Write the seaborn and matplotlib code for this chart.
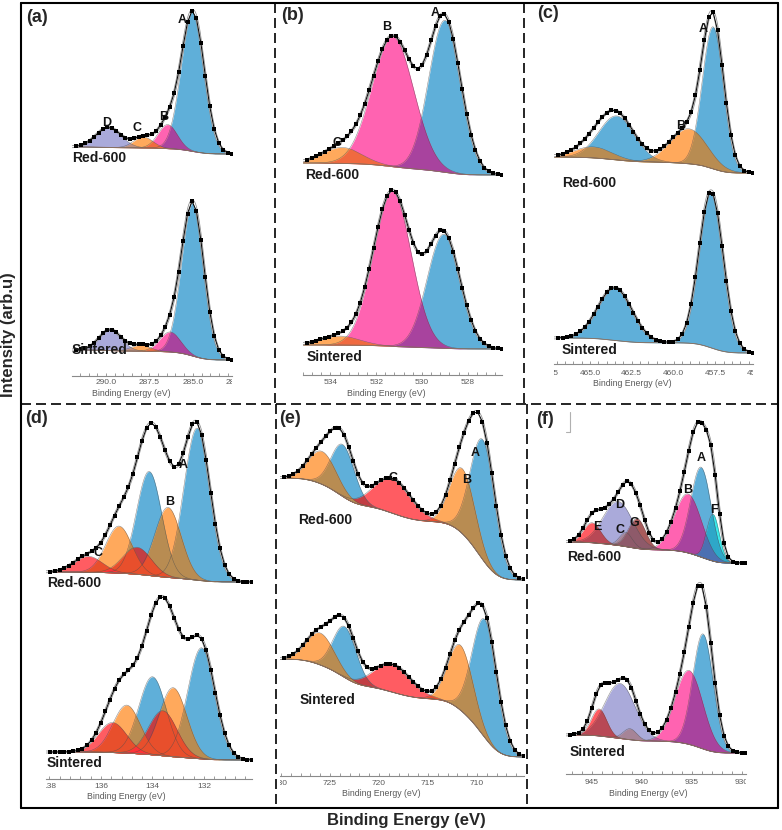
import numpy as np
import matplotlib
matplotlib.use("Agg")
import matplotlib.pyplot as plt
import matplotlib.patheffects as pe
import matplotlib.transforms as mtransforms
from matplotlib.colors import to_rgb
from matplotlib.lines import Line2D
from matplotlib.ticker import AutoMinorLocator
import seaborn as sns

FIG_W, FIG_H = 782, 830

# ---- fitted components ----
# centre (eV), height (arb.u), FWHM (eV); step = Shirley background rise (arb.u)

# (a) C 1s
a_red_center = [285.0, 286.45, 287.85, 289.85]
a_red_height = [140, 24, 11, 20]
a_red_fwhm = [1.55, 1.3, 1.3, 1.7]
a_red_step = 7
a_sin_center = [285.0, 286.3, 288.0, 289.75]
a_sin_height = [153, 20, 6, 21]
a_sin_fwhm = [1.5, 1.4, 1.3, 1.5]
a_sin_step = 10
a_ticks = [290.0, 287.5, 285.0, 282.5]

# (b) O 1s
b_red_center = [529.0, 531.27, 533.5]
b_red_height = [152, 130, 16]
b_red_fwhm = [1.65, 2.15, 2.0]
b_red_step = 12
b_sin_center = [529.05, 531.3, 533.6]
b_sin_height = [114, 155, 9]
b_sin_fwhm = [1.7, 1.95, 2.0]
b_sin_step = 4
b_ticks = [534, 532, 530, 528]

# (c) Ti 2p
c_red_center = [457.64, 463.4, 459.1, 464.8]
c_red_height = [142, 44, 35, 11]
c_red_fwhm = [1.5, 2.5, 2.6, 2.6]
c_red_step = 16
c_sin_center = [457.75, 463.5]
c_sin_height = [157, 53]
c_sin_fwhm = [1.7, 2.4]
c_sin_step = 15
c_ticks = [467.5, 465.0, 462.5, 460.0, 457.5, 455.0]

# (d) P 2p
d_red_center = [132.27, 134.13, 133.4, 135.3, 134.6, 136.5]
d_red_height = [152, 104, 70, 47, 27, 16]
d_red_fwhm = [1.2, 1.15, 1.2, 1.2, 1.3, 1.3]
d_red_step = 10
d_sin_center = [132.1, 134.0, 133.2, 135.0, 133.6, 135.55]
d_sin_height = [111, 78, 69, 48, 45, 30]
d_sin_fwhm = [1.25, 1.25, 1.25, 1.25, 1.3, 1.3]
d_sin_step = 8
d_ticks = [138, 136, 134, 132]

# (e) Fe 2p
e_red_center = [709.4, 711.5, 718.6, 723.7, 725.8]
e_red_height = [120, 65, 35, 52, 33]
e_red_fwhm = [3.0, 3.0, 4.5, 2.8, 3.4]
e_red_step = 102
e_sin_center = [709.2, 711.7, 718.6, 723.5, 726.0]
e_sin_height = [118, 65, 28, 51, 32]
e_sin_fwhm = [3.0, 3.0, 4.5, 2.8, 3.4]
e_sin_step = 98
e_ticks = [730, 725, 720, 715, 710]

# (f) Cu 2p
f_red_center = [934.1, 935.4, 941.6, 942.4, 945.0, 932.9, 940.5]
f_red_height = [90, 59, 14, 44, 20, 47, 30]
f_red_fwhm = [2.4, 3.2, 1.5, 3.5, 2.0, 1.5, 2.0]
f_red_step = 21
f_sin_center = [933.9, 935.3, 941.2, 942.2, 944.3]
f_sin_height = [115, 74, 11, 55, 27]
f_sin_fwhm = [2.4, 3.3, 1.6, 3.6, 1.8]
f_sin_step = 18
f_ticks = [945, 940, 935, 930]

# ---- colours ----
PAL = {'blue': '#5FAFD9', 'pink': '#FF63B1', 'orange': '#FFA95C', 'lav': '#AAAADA',
       'red': '#FF5C62', 'cyan': '#38EAEA', 'brown': '#A95B5B', 'rose': '#C9A1A6'}
MIX = {('blue', 'pink'): '#A8439E', ('blue', 'orange'): '#B88C52',
       ('orange', 'pink'): '#F06A40', ('orange', 'red'): '#E84F2C',
       ('blue', 'red'): '#C23E44', ('lav', 'red'): '#B84855',
       ('brown', 'lav'): '#8E5A6A', ('lav', 'rose'): '#A68497',
       ('brown', 'rose'): '#A05858', ('blue', 'cyan'): '#2EA7C8',
       ('lav', 'pink'): '#C05AA0', ('brown', 'pink'): '#B04870',
       ('lav', 'orange'): '#C0907E', ('pink', 'rose'): '#D06A90'}


def fx(px):
    return px / FIG_W


def fy(py):
    return 1 - py / FIG_H


def blend(c1, c2):
    key = tuple(sorted((c1, c2)))
    if key in MIX:
        return MIX[key]
    a = np.array(to_rgb(PAL[c1]))
    b = np.array(to_rgb(PAL[c2]))
    return tuple((a * b) ** 0.8)


def draw_spectrum(ax, E, center, height, fwhm, step, base, colors, k):
    comps = [h * np.exp(-4 * np.log(2) * ((E - c) / w) ** 2)
             for c, h, w in zip(center, height, fwhm)]
    total = np.sum(comps, axis=0)
    cum = np.cumsum(total)
    bg = base + step * cum / cum[-1]
    for comp, cn in zip(comps, colors):
        ax.fill_between(E, bg, bg + comp, color=PAL[cn], lw=0, zorder=1)
    n = len(comps)
    for i in range(n):
        for j in range(i + 1, n):
            ov = np.minimum(comps[i], comps[j])
            if ov.max() < 0.8:
                continue
            ax.fill_between(E, bg, bg + ov, color=blend(colors[i], colors[j]), lw=0, zorder=1.5)
    for comp in comps:
        ax.plot(E, bg + comp, color='0.3', lw=0.35, alpha=0.7, zorder=2)
    ax.plot(E, bg, color='#8f7260', lw=0.6, zorder=2)
    env = bg + total
    sns.lineplot(x=E, y=env, ax=ax, color='white', lw=0.9, zorder=3,
                 path_effects=[pe.Stroke(linewidth=2.0, foreground='0.55'), pe.Normal()])
    sns.lineplot(x=E[::k], y=env[::k], ax=ax, color='black', lw=0.7, marker='s',
                 markersize=2.4, markeredgewidth=0, zorder=4)


panels = [
    dict(tag='(a)', tag_xy=(37, 18), rect=(72, 232, 376, 3), xlim=(291.95, 282.75),
         ticks=a_ticks, fmt='{:.1f}', tick_y=383, xlab=(131, 393),
         colors=['blue', 'pink', 'orange', 'lav'],
         spectra=[(a_red_center, a_red_height, a_red_fwhm, a_red_step, 222),
                  (a_sin_center, a_sin_height, a_sin_fwhm, a_sin_step, 16)],
         letters=[('A', 285.6, 356), ('B', 286.7, 259), ('C', 288.2, 248), ('D', 289.95, 253)],
         red=(72, 158), sin=(72, 350)),
    dict(tag='(b)', tag_xy=(293, 16), rect=(303, 502, 375, 3), xlim=(535.2, 526.5),
         ticks=b_ticks, fmt='{:.0f}', tick_y=383, xlab=(386, 393),
         colors=['blue', 'pink', 'orange'],
         spectra=[(b_red_center, b_red_height, b_red_fwhm, b_red_step, 200),
                  (b_sin_center, b_sin_height, b_sin_fwhm, b_sin_step, 26)],
         letters=[('A', 529.44, 362), ('B', 531.53, 348), ('C', 533.7, 232)],
         red=(305, 175), sin=(307, 357)),
    dict(tag='(c)', tag_xy=(548, 14), rect=(554, 753, 364, 3), xlim=(467.15, 455.25),
         ticks=c_ticks, fmt='{:.1f}', tick_y=373, xlab=(632, 383),
         colors=['blue', 'blue', 'orange', 'orange'],
         spectra=[(c_red_center, c_red_height, c_red_fwhm, c_red_step, 191),
                  (c_sin_center, c_sin_height, c_sin_fwhm, c_sin_step, 11)],
         letters=[('A', 458.23, 335), ('B', 459.55, 238)],
         red=(562, 183), sin=(562, 350)),
    dict(tag='(d)', tag_xy=(37, 418), rect=(46, 252, 779, 408), xlim=(138.13, 130.14),
         ticks=d_ticks, fmt='{:.0f}', tick_y=786, xlab=(126, 796),
         colors=['blue', 'blue', 'orange', 'orange', 'red', 'red'],
         spectra=[(d_red_center, d_red_height, d_red_fwhm, d_red_step, 197),
                  (d_sin_center, d_sin_height, d_sin_fwhm, d_sin_step, 19)],
         letters=[('A', 132.82, 314), ('B', 133.32, 277), ('C', 136.1, 226)],
         red=(47, 583), sin=(47, 763)),
    dict(tag='(e)', tag_xy=(290, 418), rect=(280, 524, 776, 408), xlim=(730.1, 705.2),
         ticks=e_ticks, fmt='{:.0f}', tick_y=783, xlab=(381, 793),
         colors=['blue', 'orange', 'red', 'blue', 'orange'],
         spectra=[(e_red_center, e_red_height, e_red_fwhm, e_red_step, 196),
                  (e_sin_center, e_sin_height, e_sin_fwhm, e_sin_step, 19)],
         letters=[('A', 710.2, 323), ('B', 711.0, 296), ('C', 718.6, 298)],
         red=(298, 520), sin=(300, 700)),
    dict(tag='(f)', tag_xy=(545, 420), rect=(566, 746, 774, 408), xlim=(947.6, 929.6),
         ticks=f_ticks, fmt='{:.0f}', tick_y=782, xlab=(648, 793),
         colors=['blue', 'pink', 'rose', 'lav', 'red', 'cyan', 'brown'],
         spectra=[(f_red_center, f_red_height, f_red_fwhm, f_red_step, 211),
                  (f_sin_center, f_sin_height, f_sin_fwhm, f_sin_step, 21)],
         letters=[('A', 934.07, 316), ('B', 935.4, 284), ('F', 932.85, 264), ('D', 942.25, 269),
                  ('E', 944.47, 247), ('C', 942.25, 244), ('G', 940.73, 251)],
         red=(567, 557), sin=(570, 752)),
]

sns.set_theme(style='white')
plt.rcParams['font.family'] = ['Liberation Sans', 'DejaVu Sans']

fig = plt.figure(figsize=(FIG_W / 100, FIG_H / 100), dpi=100)
fig.patch.set_facecolor('white')

for p in panels:
    l, r, yb, yt = p['rect']
    ax = fig.add_axes([fx(l), fy(yb), (r - l) / FIG_W, (yb - yt) / FIG_H])
    ax.patch.set_alpha(0)
    lo, hi = sorted(p['xlim'])
    E = np.linspace(lo, hi, 900)
    px_per_sample = (r - l) / 899
    k = max(1, int(round(4.5 / px_per_sample)))
    for spec in p['spectra']:
        center, height, fwhm, step, base = spec
        draw_spectrum(ax, E, center, height, fwhm, step, base, p['colors'][:len(center)], k)
    ax.set_xlim(p['xlim'])
    ax.set_ylim(0, yb - yt)
    ax.set_yticks([])
    ax.set_xlabel('')
    ax.set_ylabel('')
    for s in ['left', 'right', 'top']:
        ax.spines[s].set_visible(False)
    ax.spines['bottom'].set_color('#8a8a8a')
    ax.spines['bottom'].set_linewidth(0.8)
    ax.set_xticks([t for t in p['ticks'] if lo <= t <= hi])
    ax.xaxis.set_minor_locator(AutoMinorLocator(5))
    ax.tick_params(axis='x', which='both', direction='in', length=2.2, width=0.6,
                   color='#8a8a8a', labelbottom=False, bottom=True)

    # tick labels clipped to the axis width, as in the original
    clip = mtransforms.TransformedBbox(
        mtransforms.Bbox.from_extents(fx(l), 0, fx(r), 1), fig.transFigure)
    tr = mtransforms.blended_transform_factory(ax.transData, fig.transFigure)
    for t in p['ticks']:
        txt = ax.text(t, fy(p['tick_y']), p['fmt'].format(t), transform=tr, ha='center',
                      va='center', fontsize=6, color='#5a5a5a', clip_on=True)
        txt.set_clip_path(None)
        txt.set_clip_box(clip)
    fig.text(fx(p['xlab'][0]), fy(p['xlab'][1]), 'Binding Energy (eV)', ha='center',
             va='center', fontsize=6.3, color='#5a5a5a')

    for s, x, y in p['letters']:
        ax.text(x, y, s, ha='center', va='center', fontsize=9, weight='bold',
                color='#111111', zorder=6)
    fig.text(fx(p['red'][0]), fy(p['red'][1]), 'Red-600', ha='left', va='center',
             fontsize=10, weight='bold', color='#1a1a1a')
    fig.text(fx(p['sin'][0]), fy(p['sin'][1]), 'Sintered', ha='left', va='center',
             fontsize=10, weight='bold', color='#1a1a1a')
    fig.text(fx(p['tag_xy'][0]), fy(p['tag_xy'][1]), p['tag'], ha='center', va='center',
             fontsize=13, weight='bold')

# frame and dashed separators
frame = dict(color='black', lw=1.5, transform=fig.transFigure)
for xs, ys in [((21, 778), (3, 3)), ((21, 778), (808, 808)), ((21, 21), (3, 808)),
               ((778, 778), (3, 808))]:
    fig.add_artist(Line2D([fx(v) for v in xs], [fy(v) for v in ys], **frame))
dash = dict(color='black', lw=1.2, dashes=(6, 3), transform=fig.transFigure)
for xs, ys in [((21, 778), (404, 404)), ((275, 275), (3, 404)), ((524, 524), (3, 404)),
               ((276, 276), (404, 808)), ((527, 527), (404, 808))]:
    fig.add_artist(Line2D([fx(v) for v in xs], [fy(v) for v in ys], **dash))
fig.add_artist(Line2D([fx(570), fx(570), fx(566)], [fy(412), fy(432), fy(432)],
                      color='#b0b0b0', lw=0.8, transform=fig.transFigure))

fig.text(fx(9), fy(335), 'Intensity (arb.u)', rotation=90, ha='center', va='center',
         fontsize=12, weight='bold')
fig.text(fx(406), fy(820), 'Binding Energy (eV)', ha='center', va='center',
         fontsize=12, weight='bold')

fig.savefig('out.png', dpi=100, facecolor='white')
